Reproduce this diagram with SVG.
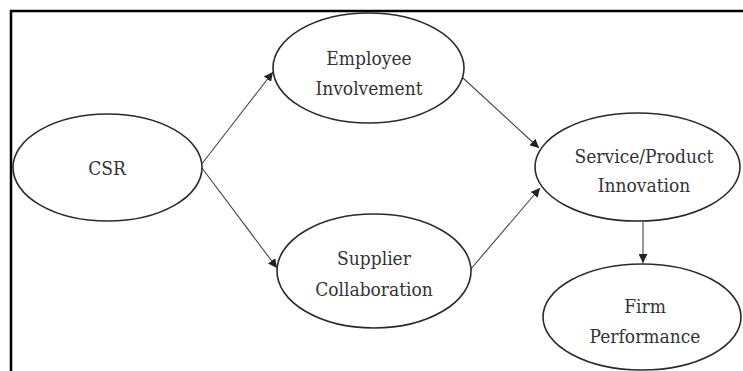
<svg xmlns="http://www.w3.org/2000/svg" width="743" height="371" viewBox="0 0 743 371">
<style>
.node ellipse{fill:#fff;stroke:#2a2a2a;stroke-width:1.6}
.node text{font-family:'DejaVu Serif Condensed','DejaVu Serif','Liberation Serif',serif;font-stretch:condensed;font-size:19px;fill:#333;text-anchor:middle}
.edge{stroke:#444;stroke-width:1.1;fill:none;marker-end:url(#arr)}
</style>
<defs>
<marker id="arr" viewBox="0 0 10 10" refX="10" refY="5" markerWidth="9" markerHeight="9" markerUnits="userSpaceOnUse" orient="auto">
<path d="M0,0 L10,5 L0,10 z" fill="#222"/>
</marker>
</defs>
<rect width="743" height="371" fill="#fff"/>
<path d="M11,371 V11 H743" fill="none" stroke="#000" stroke-width="2.5"/>
<g id="connectors">
<line class="edge" x1="201" y1="165" x2="273" y2="72"/>
<line class="edge" x1="202" y1="168" x2="277" y2="268"/>
<line class="edge" x1="463" y1="78" x2="539" y2="148"/>
<line class="edge" x1="470" y1="270" x2="540" y2="188"/>
<line class="edge" x1="643" y1="222" x2="643" y2="263"/>
</g>
<g id="csr" class="node">
<ellipse cx="107.5" cy="167.5" rx="94.5" ry="53.5"/>
<text x="107" y="175">CSR</text>
</g>
<g id="employee-involvement" class="node">
<ellipse cx="368.5" cy="68" rx="95.5" ry="55"/>
<text x="369" y="65">Employee</text>
<text x="369" y="95">Involvement</text>
</g>
<g id="supplier-collaboration" class="node">
<ellipse cx="374" cy="271" rx="97" ry="57"/>
<text x="374" y="265">Supplier</text>
<text x="374" y="296">Collaboration</text>
</g>
<g id="service-product-innovation" class="node">
<ellipse cx="637.5" cy="167" rx="102.5" ry="54"/>
<text x="644" y="163">Service/Product</text>
<text x="644" y="192">Innovation</text>
</g>
<g id="firm-performance" class="node">
<ellipse cx="642" cy="317" rx="99" ry="53"/>
<text x="645" y="313">Firm</text>
<text x="645" y="343">Performance</text>
</g>
</svg>
